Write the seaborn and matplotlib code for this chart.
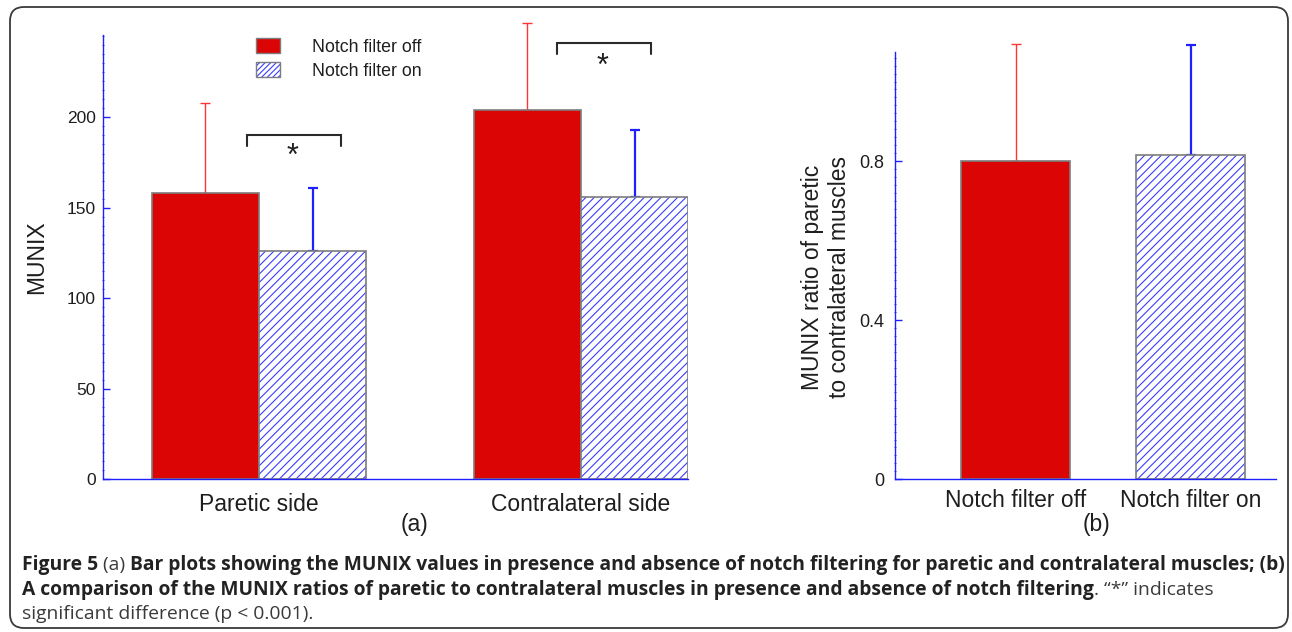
import numpy as np
import pandas as pd
import matplotlib
matplotlib.use("Agg")
import matplotlib.pyplot as plt
import seaborn as sns
from matplotlib.patches import Patch, Rectangle, FancyBboxPatch
from matplotlib.ticker import MultipleLocator
from matplotlib.transforms import IdentityTransform

# values
sides = ["Paretic side", "Contralateral side"]
filters = ["Notch filter off", "Notch filter on"]
munix_off = [158, 204]
munix_on = [126, 156]
munix_off_sd = [50, 48]
munix_on_sd = [35, 37]
ratio_mean = [0.80, 0.816]
ratio_sd = [0.295, 0.277]
y_ticks_a = [0, 50, 100, 150, 200]
y_ticks_b = [0, 0.4, 0.8]
y_ticklabels_b = ["0", "0.4", "0.8"]

RED = "#dc0505"
BLUE = "#1f1fff"
HATCH_BLUE = "#3c3cff"
EDGE = "#7d7d7d"
TXT = "#1e1e1e"
HATCH = "////"
CAP_FONT = ["Open Sans", "DejaVu Sans"]

sns.set_theme(style="white")
plt.rcParams["font.family"] = ["Liberation Sans", "DejaVu Sans"]
plt.rcParams["hatch.linewidth"] = 0.8

W, H = 1292, 632
fig = plt.figure(figsize=(W / 100, H / 100), dpi=100)


def fx(x):
    return x / W


def fy(y):
    return 1 - y / H


def rect(x0, y0, x1, y1):
    return [fx(x0), fy(y1), (x1 - x0) / W, (y1 - y0) / H]


ax1 = fig.add_axes(rect(103, 35, 688.3, 479.3))
ax2 = fig.add_axes(rect(895, 51.7, 1276, 479.3))

df_a = pd.DataFrame({
    "side": sides * 2,
    "filter": [filters[0]] * 2 + [filters[1]] * 2,
    "MUNIX": munix_off + munix_on,
})
df_b = pd.DataFrame({"filter": filters, "ratio": ratio_mean})

sns.barplot(data=df_a, x="side", y="MUNIX", hue="filter", order=sides, hue_order=filters,
            palette=[RED, "white"], saturation=1, width=0.666, errorbar=None,
            legend=False, ax=ax1)
sns.barplot(data=df_b, x="filter", y="ratio", hue="filter", order=filters, hue_order=filters,
            palette=[RED, "white"], saturation=1, width=0.623, errorbar=None,
            legend=False, ax=ax2)


def finish_bars(ax, sds):
    bars = sorted(list(ax.patches), key=lambda p: p.get_x())
    for p, sd in zip(bars, sds):
        hatched = p.get_facecolor()[2] > 0.5
        if hatched:
            p.set_hatch(HATCH)
            p.set_edgecolor(HATCH_BLUE)
            p.set_linewidth(0)
            ax.add_patch(Rectangle((p.get_x(), p.get_y()), p.get_width(), p.get_height(),
                                   fill=False, edgecolor=EDGE, lw=1.2, zorder=1.1))
            ec, elw = BLUE, 1.6
        else:
            p.set_edgecolor(EDGE)
            p.set_linewidth(1.2)
            ec, elw = "#ff3434", 1.0
        xc = p.get_x() + p.get_width() / 2
        cont = ax.errorbar(xc, p.get_height(), yerr=[[0], [sd]], fmt="none", ecolor=ec,
                           elinewidth=elw, capsize=3.5, capthick=elw, zorder=0.8)
        for art in cont.get_children():
            art.set_clip_on(False)


finish_bars(ax1, [v for pair in zip(munix_off_sd, munix_on_sd) for v in pair])
finish_bars(ax2, ratio_sd)

for ax in (ax1, ax2):
    sns.despine(ax=ax)
    for s in ("left", "bottom"):
        ax.spines[s].set_color(BLUE)
        ax.spines[s].set_linewidth(1.0)
    ax.tick_params(axis="y", which="both", left=True, direction="in", color=BLUE, labelcolor=TXT)
    ax.tick_params(axis="y", which="major", length=5, width=1)
    ax.tick_params(axis="y", which="minor", length=2, width=0.6, direction="inout")
    ax.tick_params(axis="x", bottom=False, length=0, labelcolor=TXT)
    ax.set_xlabel("")
    ax.set_ylabel("")

ax1.set_xlim(-0.4845, 1.333)
ax1.set_ylim(0, 245.5)
ax1.set_yticks(y_ticks_a)
ax1.yaxis.set_minor_locator(MultipleLocator(5))
ax1.tick_params(axis="y", labelsize=12.5, pad=5)
ax1.tick_params(axis="x", labelsize=16.5, pad=10)

ax2.set_xlim(-0.691, 1.486)
ax2.set_ylim(0, 1.075)
ax2.set_yticks(y_ticks_b, labels=y_ticklabels_b)
ax2.yaxis.set_minor_locator(MultipleLocator(0.02))
ax2.tick_params(axis="y", labelsize=13, pad=8)
ax2.tick_params(axis="x", labelsize=16.5, pad=7)

# significance brackets
ax1.plot([-0.037, -0.037, 0.255, 0.255], [184, 190.1, 190.1, 184], color="#2a2a2a", lw=1.5,
         clip_on=False, solid_joinstyle="miter")
ax1.plot([0.926, 0.926, 1.217, 1.217], [234.8, 241, 241, 234.8], color="#2a2a2a", lw=1.5,
         clip_on=False, solid_joinstyle="miter")
ax1.text(0.105, 173.8, "*", ha="center", va="baseline", fontsize=22, color=TXT, clip_on=False)
ax1.text(1.068, 223.6, "*", ha="center", va="baseline", fontsize=22, color=TXT, clip_on=False)

# legend
handles = [Patch(facecolor=RED, edgecolor=EDGE, lw=1),
           (Patch(facecolor="white", edgecolor=HATCH_BLUE, hatch="//////", lw=0),
            Patch(fill=False, edgecolor=EDGE, lw=1))]
leg = ax1.legend(handles, filters, loc="upper left", bbox_to_anchor=(fx(256), fy(38)),
                 bbox_transform=fig.transFigure, frameon=False, fontsize=12.8,
                 handlelength=1.35, handleheight=0.95, handletextpad=1.78,
                 labelspacing=0.34, borderpad=0, borderaxespad=0)
for t in leg.get_texts():
    t.set_color(TXT)

# axis titles and panel letters
fig.text(fx(37), fy(257), "MUNIX", rotation=90, ha="center", va="center", fontsize=16.5, color=TXT)
fig.text(fx(826), fy(277), "MUNIX ratio of paretic\nto contralateral muscles", rotation=90,
         ha="center", va="center", fontsize=16.5, linespacing=1.2, multialignment="center",
         color=TXT)
fig.text(fx(414), fy(524), "(a)", ha="center", va="center", fontsize=16.5, color=TXT)
fig.text(fx(1097), fy(524), "(b)", ha="center", va="center", fontsize=16.5, color=TXT)

# caption with mixed weights
r = fig.canvas.get_renderer()


def text_w(s, weight, size):
    t = fig.text(0, 0, s + "|", fontsize=size, fontweight=weight, family=CAP_FONT)
    b = fig.text(0, 0, "|", fontsize=size, fontweight=weight, family=CAP_FONT)
    w = t.get_window_extent(r).width - b.get_window_extent(r).width
    t.remove()
    b.remove()
    return w


caption = [
    (570, [("Figure 5 ", "bold"), ("(a) ", "normal"),
           ("Bar plots showing the MUNIX values in presence and absence of notch filtering "
            "for paretic and contralateral muscles; (b)", "bold")]),
    (595, [("A comparison of the MUNIX ratios of paretic to contralateral muscles in presence "
            "and absence of notch filtering", "bold"), (". \u201c*\u201d indicates", "normal")]),
    (619, [("significant difference (p < 0.001).", "normal")]),
]
w1 = sum(text_w(s, wt, 15) for s, wt in caption[0][1])
cap_size = min(16, max(11, 15 * 1261 / w1))
for base, runs in caption:
    x = 22
    for s, wt in runs:
        fig.text(fx(x), fy(base), s, ha="left", va="baseline", fontsize=cap_size,
                 fontweight=wt, family=CAP_FONT, color="#222222" if wt == "bold" else "#3a3a3a")
        x += text_w(s, wt, cap_size)

border = FancyBboxPatch((10, H - 628), 1278, 621, boxstyle="round,pad=0,rounding_size=14",
                        transform=IdentityTransform(), fill=False, edgecolor="#3a3a3a", lw=1.3)
fig.add_artist(border)

fig.savefig("out.png", dpi=100, facecolor="white")
